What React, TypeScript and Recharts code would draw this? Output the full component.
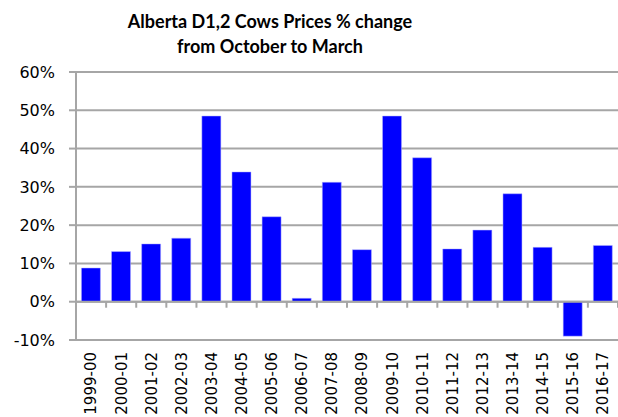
import React from "react";
import { Bar, BarChart, CartesianGrid, ReferenceLine, XAxis, YAxis } from "recharts";

const seasons = [
  "1999-00", "2000-01", "2001-02", "2002-03", "2003-04", "2004-05",
  "2005-06", "2006-07", "2007-08", "2008-09", "2009-10", "2010-11",
  "2011-12", "2012-13", "2013-14", "2014-15", "2015-16", "2016-17",
];

// % change in D1,2 cow prices, October -> March
const pctChange = [
  8.8, 13.1, 15.1, 16.6, 48.5, 33.9, 22.2, 0.9, 31.2,
  13.6, 48.5, 37.6, 13.8, 18.7, 28.2, 14.2, -9.0, 14.7,
];

const yTicks = [-10, 0, 10, 20, 30, 40, 50, 60];

const data = seasons.map((season, i) => ({ season, value: pctChange[i] }));

const GRID = "#a6a6a6";
const FONT = "'DejaVu Sans', Verdana, sans-serif";

function SeasonTick(props: any) {
  const { x, y, payload } = props;
  const ty = y + 4;
  return (
    <text
      x={x}
      y={ty}
      dy="0.36em"
      transform={`rotate(-90, ${x}, ${ty})`}
      textAnchor="end"
      fontFamily={FONT}
      fontSize={15}
      fill="#000"
    >
      {payload.value}
    </text>
  );
}

// zero line doubles as the category axis, with tick marks between bars
function ZeroAxis(props: any) {
  const { x1, y1, x2, y2 } = props;
  const step = (x2 - x1) / seasons.length;
  const marks = seasons.map((_, i) => x1 + (i + 1) * step);
  return (
    <g>
      <line x1={x1} y1={y1} x2={x2} y2={y2} stroke={GRID} strokeWidth={2} />
      {marks.map((mx, i) => (
        <line key={i} x1={mx} y1={y1} x2={mx} y2={y1 + 6} stroke={GRID} strokeWidth={2} />
      ))}
    </g>
  );
}

export default function App() {
  return (
    <div style={{ position: "absolute", left: 0, top: 0, width: 618, height: 417, background: "#fff" }}>
      <div
        style={{
          position: "absolute",
          left: 70,
          width: 400,
          top: 9,
          textAlign: "center",
          fontFamily: "Lato, 'Open Sans', sans-serif",
          fontWeight: 700,
          fontSize: 18,
          lineHeight: "25px",
          color: "#000",
        }}
      >
        Alberta D1,2 Cows Prices % change
        <br />
        from October to March
      </div>
      <BarChart
        width={618}
        height={417}
        data={data}
        margin={{ top: 72, right: 0, bottom: 0, left: 0 }}
        barCategoryGap="18%"
      >
        <CartesianGrid vertical={false} stroke={GRID} strokeWidth={2} />
        <XAxis
          dataKey="season"
          height={77}
          axisLine={false}
          tickLine={false}
          interval={0}
          tick={<SeasonTick />}
        />
        <YAxis
          width={76}
          domain={[-10, 60]}
          ticks={yTicks}
          tickFormatter={(v: number) => `${v}%`}
          axisLine={{ stroke: GRID, strokeWidth: 2 }}
          tickLine={{ stroke: GRID, strokeWidth: 2 }}
          tickSize={7}
          tickMargin={14}
          tick={{ fill: "#000", fontSize: 16, fontFamily: FONT }}
        />
        <ReferenceLine y={0} shape={<ZeroAxis />} />
        <Bar dataKey="value" fill="#0000ff" stroke="#b4b4ff" strokeWidth={0.5} isAnimationActive={false} />
      </BarChart>
    </div>
  );
}
